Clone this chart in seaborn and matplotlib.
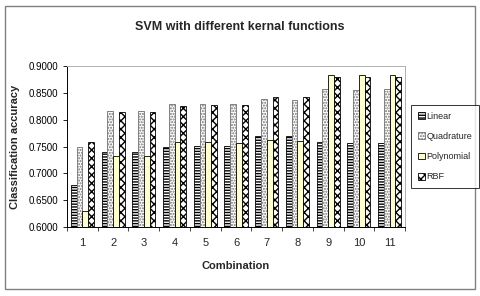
import matplotlib
matplotlib.use("Agg")
import matplotlib.pyplot as plt
from matplotlib.patches import Rectangle
from matplotlib.ticker import FormatStrFormatter, FixedLocator
import pandas as pd
import seaborn as sns

sns.set_style("ticks")
plt.rcParams["font.family"] = ["Liberation Sans", "DejaVu Sans"]
plt.rcParams["hatch.linewidth"] = 1.0

combinations = ["1", "2", "3", "4", "5", "6", "7", "8", "9", "10", "11"]
kernels = ["Linear", "Quadrature", "Polynomial", "RBF"]
linear = [0.678, 0.739, 0.739, 0.749, 0.751, 0.751, 0.769, 0.769, 0.758, 0.757, 0.757]
quadrature = [0.749, 0.816, 0.816, 0.829, 0.829, 0.829, 0.839, 0.837, 0.857, 0.855, 0.857]
polynomial = [0.630, 0.732, 0.732, 0.758, 0.758, 0.757, 0.763, 0.760, 0.883, 0.883, 0.883]
rbf = [0.758, 0.814, 0.814, 0.825, 0.827, 0.827, 0.843, 0.843, 0.879, 0.879, 0.879]

df = pd.DataFrame({"Combination": combinations * 4,
                   "Kernel": [k for k in kernels for _ in combinations],
                   "Accuracy": linear + quadrature + polynomial + rbf})

fig = plt.figure(figsize=(4.8, 2.96), dpi=100)
ax = fig.add_axes([0.1396, 0.233, 0.7042, 0.544])

sns.barplot(data=df, x="Combination", y="Accuracy", hue="Kernel", order=combinations,
            hue_order=kernels, width=0.75, ax=ax, legend=False)

# Excel-like fill patterns
styles = [
    dict(facecolor="white", edgecolor="black", hatch="------"),
    dict(facecolor="white", edgecolor="#707070", hatch="......"),
    dict(facecolor="#FFFFCC", edgecolor="black", hatch=None),
    dict(facecolor="white", edgecolor="black", hatch="xxxx"),
]
for cont, st in zip(ax.containers, styles):
    for bar in cont:
        bar.set_facecolor(st["facecolor"])
        bar.set_edgecolor(st["edgecolor"])
        bar.set_hatch(st["hatch"])
        bar.set_linewidth(0.6)

ax.set_ylim(0.6, 0.9)
ax.set_yticks([0.6, 0.65, 0.7, 0.75, 0.8, 0.85, 0.9])
ax.yaxis.set_major_formatter(FormatStrFormatter("%.4f"))
ax.set_xlim(-0.5, len(combinations) - 0.5)
ax.xaxis.set_minor_locator(FixedLocator([i + 0.5 for i in range(-1, len(combinations))]))
ax.tick_params(axis="x", which="major", length=0, labelsize=8, pad=8)
ax.tick_params(axis="x", which="minor", length=3, width=0.6)
ax.tick_params(axis="y", length=3, width=0.6, labelsize=7, colors="black")

for s in ["left", "bottom"]:
    ax.spines[s].set_color("black")
    ax.spines[s].set_linewidth(0.7)
for s in ["top", "right"]:
    ax.spines[s].set_visible(True)
    ax.spines[s].set_color("#b0b0b0")
    ax.spines[s].set_linewidth(0.7)

ax.set_xlabel("Combination", fontsize=8, fontweight="bold", labelpad=9)
ax.set_ylabel("Classification accuracy", fontsize=8, fontweight="bold", labelpad=6)
fig.text(0.5, 0.91, "SVM with different kernal functions", ha="center", va="center",
         fontsize=9, fontweight="bold")

handles = [Rectangle((0, 0), 1, 1, facecolor=st["facecolor"], edgecolor=st["edgecolor"],
                     hatch=st["hatch"], linewidth=0.6) for st in styles]
leg = fig.legend(handles, kernels, loc="center left", bbox_to_anchor=(0.857, 0.505),
                 fontsize=6.5, frameon=True, fancybox=False, handlelength=0.8, handleheight=0.8,
                 handletextpad=0.2, borderpad=0.7, labelspacing=1.25, borderaxespad=0)
leg.get_frame().set_edgecolor("black")
leg.get_frame().set_linewidth(0.7)

fig.patches.append(Rectangle((0.01, 0.025), 0.98, 0.955, transform=fig.transFigure,
                             fill=False, edgecolor="#808080", linewidth=1.0))

fig.savefig("out.png", dpi=100)
